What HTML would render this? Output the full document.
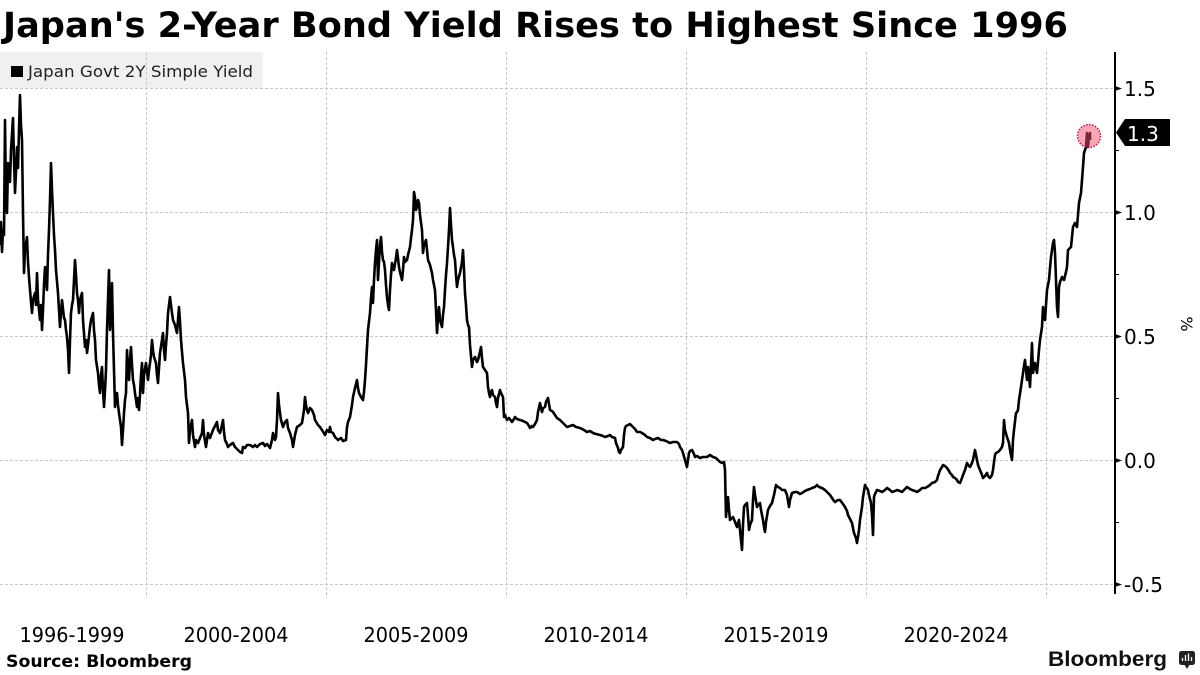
<!DOCTYPE html>
<html><head><meta charset="utf-8"><style>
html,body{margin:0;padding:0;background:#fff;}
svg{display:block;}
</style></head><body>
<svg width="1200" height="675" viewBox="0 0 1200 675" xmlns="http://www.w3.org/2000/svg">
<rect width="1200" height="675" fill="#fff"/>
<text x="3" y="37" font-family="DejaVu Sans, Liberation Sans, sans-serif" font-weight="bold" font-size="35" textLength="1065" lengthAdjust="spacingAndGlyphs" fill="#000">Japan's 2-Year Bond Yield Rises to Highest Since 1996</text>
<rect x="0" y="52" width="263" height="36" fill="#f0f0f0"/>
<rect x="11" y="66" width="12" height="11" fill="#000"/>
<text x="28" y="77" font-family="DejaVu Sans, Liberation Sans, sans-serif" font-size="16" textLength="225" lengthAdjust="spacingAndGlyphs" fill="#222">Japan Govt 2Y Simple Yield</text>
<g stroke="#c8c8c8" stroke-width="1" stroke-dasharray="3,2" fill="none">
<line x1="0" y1="88.5" x2="1113" y2="88.5"/>
<line x1="0" y1="212.5" x2="1113" y2="212.5"/>
<line x1="0" y1="336.5" x2="1113" y2="336.5"/>
<line x1="0" y1="460.5" x2="1113" y2="460.5"/>
<line x1="0" y1="584.5" x2="1113" y2="584.5"/>
<line x1="146.5" y1="52" x2="146.5" y2="598"/>
<line x1="326.5" y1="52" x2="326.5" y2="598"/>
<line x1="506.5" y1="52" x2="506.5" y2="598"/>
<line x1="686.5" y1="52" x2="686.5" y2="598"/>
<line x1="866.5" y1="52" x2="866.5" y2="598"/>
<line x1="1046.5" y1="52" x2="1046.5" y2="598"/>
</g>
<line x1="1115" y1="52" x2="1115" y2="594" stroke="#000" stroke-width="2"/>
<g fill="#000">
<polygon points="1115,86 1122,88.5 1115,91"/>
<polygon points="1115,210 1122,212.5 1115,215"/>
<polygon points="1115,334 1122,336.5 1115,339"/>
<polygon points="1115,458 1122,460.5 1115,463"/>
<polygon points="1115,582 1122,584.5 1115,587"/>
</g>
<g stroke="#000" stroke-width="1">
<line x1="1115" y1="150.5" x2="1119" y2="150.5"/>
<line x1="1115" y1="274.5" x2="1119" y2="274.5"/>
<line x1="1115" y1="398.5" x2="1119" y2="398.5"/>
<line x1="1115" y1="522.5" x2="1119" y2="522.5"/>
</g>
<g font-family="DejaVu Sans, Liberation Sans, sans-serif" font-size="20" fill="#000">
<text x="1124" y="96">1.5</text>
<text x="1124" y="220">1.0</text>
<text x="1124" y="344">0.5</text>
<text x="1124" y="468">0.0</text>
<text x="1124" y="592">-0.5</text>
</g>
<text transform="translate(1181,324) rotate(90)" text-anchor="middle" font-family="DejaVu Sans, Liberation Sans, sans-serif" font-size="16" fill="#000">%</text>
<polyline fill="none" stroke="#000" stroke-width="2.6" stroke-linejoin="round" points="0,245 1,222 2,252 3,230 4,235 5,120 6,200 7,213 8,163 10,182 11,150 13,118 14,160 15,193 16,172 17,147 18,168 19,130 20,95 21,125 22,140 23,213 24,273 25,250 27,237 28,262 29,277 30,290 32,313 33,300 35,293 36,305 37,273 38,300 40,320 41,305 42,330 43,310 44,285 45,267 46,280 47,290 48,255 49,230 50,200 51,163 52,190 53,213 54,235 55,250 56,270 58,293 59,310 60,327 61,312 62,300 64,318 65,320 66,330 67,337 68,350 69,373 70,340 71,313 72,305 73,300 74,280 75,260 76,275 77,293 78,300 79,313 80,300 82,293 83,320 85,347 86,340 87,353 88,345 90,327 91,320 93,313 94,330 95,340 96,360 98,373 99,385 100,393 101,375 102,367 103,390 104,407 105,390 106,370 107,330 108,300 109,270 110,330 111,310 112,283 113,333 114,370 115,407 116,395 117,393 118,405 119,413 120,420 121,427 122,445 123,430 124,413 125,400 126,393 127,350 128,370 129,380 130,360 131,347 132,365 133,380 134,385 135,393 136,400 137,407 138,398 139,410 140,395 141,375 142,363 143,393 144,375 146,363 147,372 148,380 149,370 150,363 151,355 152,340 153,350 154,357 155,360 156,363 157,375 158,383 159,368 160,353 162,340 163,333 164,350 165,360 166,345 167,333 168,313 169,305 170,297 171,305 172,313 173,320 175,325 177,333 178,320 179,307 180,322 181,340 182,352 183,363 185,380 186,397 187,405 188,413 189,443 190,430 192,420 193,435 195,447 196,440 198,443 200,438 202,433 203,420 204,435 206,447 207,440 208,433 210,438 213,430 215,426 217,422 218,430 220,433 222,425 223,420 224,432 225,440 227,444 228,447 230,445 233,443 235,447 238,450 240,452 242,453 243,447 245,448 247,445 250,445 253,447 255,445 257,447 260,444 263,443 265,446 267,444 270,448 272,440 273,433 275,440 276,437 277,420 278,393 279,405 280,413 281,420 283,427 285,422 287,420 288,428 290,433 292,440 293,447 295,435 297,427 300,425 302,423 304,410 305,397 306,405 307,410 308,413 310,408 312,410 314,415 315,420 318,425 320,427 322,430 325,435 327,430 329,432 330,427 331,432 333,433 335,437 338,440 341,438 343,441 346,440 347,427 348,422 350,417 352,405 353,397 355,388 357,380 358,388 359,393 361,397 363,400 364,392 365,380 366,365 367,347 368,330 370,313 371,298 372,287 373,303 374,280 375,263 376,250 377,240 378,280 379,262 380,245 381,237 382,252 383,260 384,262 385,270 386,285 387,297 388,305 389,310 390,290 391,275 392,263 393,268 394,270 396,258 397,250 398,258 399,267 400,272 402,280 403,270 404,257 405,262 407,260 408,255 410,247 411,238 412,230 413,220 414,192 415,198 416,210 417,207 418,200 419,203 420,215 422,230 423,253 424,245 426,240 427,250 428,260 430,265 432,273 433,280 435,290 436,310 437,333 438,318 439,307 440,320 442,327 443,315 444,307 445,290 446,275 447,263 448,247 449,230 450,208 451,225 452,240 453,247 454,255 455,260 456,275 457,287 458,280 460,273 462,262 463,250 464,270 465,293 466,305 467,320 468,325 469,327 470,345 472,367 473,360 475,357 477,362 478,360 480,352 481,347 482,358 483,367 485,370 487,373 488,387 489,393 490,397 491,392 492,390 493,395 495,397 496,403 497,407 498,398 500,390 501,393 503,397 504,417 505,415 507,420 509,418 512,422 514,419 515,417 517,419 520,420 523,421 527,423 529,426 530,428 532,426 533,427 535,424 537,420 538,412 540,403 541,408 542,412 543,408 545,407 546,402 548,398 549,404 550,410 552,411 553,412 555,415 557,418 560,420 562,422 565,425 567,427 570,426 573,425 576,427 580,428 584,430 587,432 590,431 593,433 596,434 600,435 603,436 605,437 608,436 610,435 612,437 615,438 616,443 618,448 619,452 620,453 621,450 623,447 624,435 625,428 626,426 628,425 630,424 633,427 635,429 637,432 640,432 642,433 645,435 647,437 650,438 653,440 655,439 658,438 661,440 663,440 666,441 670,443 673,442 677,442 679,444 680,447 682,450 683,453 685,460 687,467 688,460 689,453 690,451 692,450 694,454 695,457 697,456 700,458 703,457 707,457 710,455 713,457 716,458 718,460 720,462 722,463 724,462 725,470 726,517 727,505 728,497 729,510 730,520 732,518 733,517 735,522 737,527 738,523 739,520 740,530 741,540 742,550 743,525 744,507 745,505 747,503 748,515 749,530 750,525 752,520 753,500 754,487 755,495 757,507 758,505 760,503 761,510 763,520 764,527 765,532 766,522 768,510 770,506 772,503 774,495 776,485 778,487 780,488 782,490 785,490 787,495 789,507 790,500 792,493 795,492 797,492 800,494 802,493 805,491 807,490 810,489 812,488 815,487 817,485 819,487 822,488 825,490 827,492 830,495 832,498 834,501 835,502 838,500 840,500 843,504 845,507 847,511 848,515 850,519 852,523 853,528 854,533 856,538 857,543 858,537 859,530 860,520 862,507 863,497 865,485 866,487 868,490 869,495 871,503 872,515 873,535 874,497 875,494 877,490 880,491 882,492 885,490 887,488 890,490 892,492 895,491 897,490 900,491 902,492 905,489 907,487 910,489 912,490 915,491 917,492 920,490 922,488 925,488 927,487 930,485 932,483 935,482 937,480 938,476 940,470 942,467 943,465 945,466 947,468 949,471 950,473 952,475 953,477 955,478 957,480 958,482 960,483 962,478 963,475 965,470 967,463 968,465 970,467 972,463 973,460 974,455 975,450 976,455 977,460 978,465 980,470 982,475 983,478 985,476 987,473 988,476 990,478 992,475 993,470 994,462 995,455 996,453 998,452 1000,450 1002,447 1003,443 1004,420 1005,430 1007,437 1008,440 1009,443 1010,450 1011,455 1012,460 1013,440 1014,430 1016,413 1017,412 1018,410 1019,400 1021,387 1022,380 1023,373 1024,366 1025,360 1026,370 1027,380 1028,367 1029,375 1030,387 1031,365 1032,343 1033,373 1034,368 1035,363 1036,368 1037,373 1038,362 1039,350 1040,340 1042,327 1043,307 1044,315 1045,320 1046,305 1047,290 1048,285 1049,280 1050,268 1051,257 1052,250 1053,243 1054,240 1055,253 1056,280 1057,307 1058,317 1059,287 1060,282 1062,277 1063,279 1064,280 1066,272 1067,267 1068,250 1070,248 1071,247 1072,237 1073,227 1075,223 1076,225 1077,227 1078,215 1079,203 1080,198 1081,193 1082,180 1083,167 1084,153 1085,150 1086,147 1087,133 1088,147 1089,137 1090,133 1090,140"/>
<circle cx="1089" cy="136" r="11.5" fill="rgba(240,80,110,0.5)" stroke="#d0103a" stroke-width="1.5" stroke-dasharray="1.5,1.5"/>
<polygon points="1116,132.5 1125,119 1170,119 1170,146 1125,146" fill="#000"/>
<text x="1127" y="141" font-family="DejaVu Sans, Liberation Sans, sans-serif" font-size="20" fill="#fff">1.3</text>
<g font-family="DejaVu Sans, Liberation Sans, sans-serif" font-size="20" fill="#000" text-anchor="middle">
<text x="72" y="642" textLength="105" lengthAdjust="spacingAndGlyphs">1996-1999</text>
<text x="236" y="642" textLength="105" lengthAdjust="spacingAndGlyphs">2000-2004</text>
<text x="416" y="642" textLength="105" lengthAdjust="spacingAndGlyphs">2005-2009</text>
<text x="596" y="642" textLength="105" lengthAdjust="spacingAndGlyphs">2010-2014</text>
<text x="776" y="642" textLength="105" lengthAdjust="spacingAndGlyphs">2015-2019</text>
<text x="956" y="642" textLength="105" lengthAdjust="spacingAndGlyphs">2020-2024</text>
</g>
<text x="6" y="667" font-family="DejaVu Sans, Liberation Sans, sans-serif" font-weight="bold" font-size="17" textLength="186" lengthAdjust="spacingAndGlyphs" fill="#000">Source: Bloomberg</text>
<text x="1048" y="666" font-family="Liberation Sans, DejaVu Sans, sans-serif" font-weight="bold" font-size="21" textLength="119" lengthAdjust="spacingAndGlyphs" fill="#111">Bloomberg</text>
<rect x="1179" y="651" width="16" height="14" rx="2.5" fill="#222"/>
<polygon points="1184,664 1190,664 1187,669" fill="#222"/>
<g stroke="#fff" stroke-width="1.3">
<line x1="1182.5" y1="661" x2="1182.5" y2="658"/>
<line x1="1185.5" y1="661" x2="1185.5" y2="655"/>
<line x1="1188.5" y1="661" x2="1188.5" y2="653.5"/>
<line x1="1191.5" y1="661" x2="1191.5" y2="657"/>
</g>
</svg>
</body></html>
